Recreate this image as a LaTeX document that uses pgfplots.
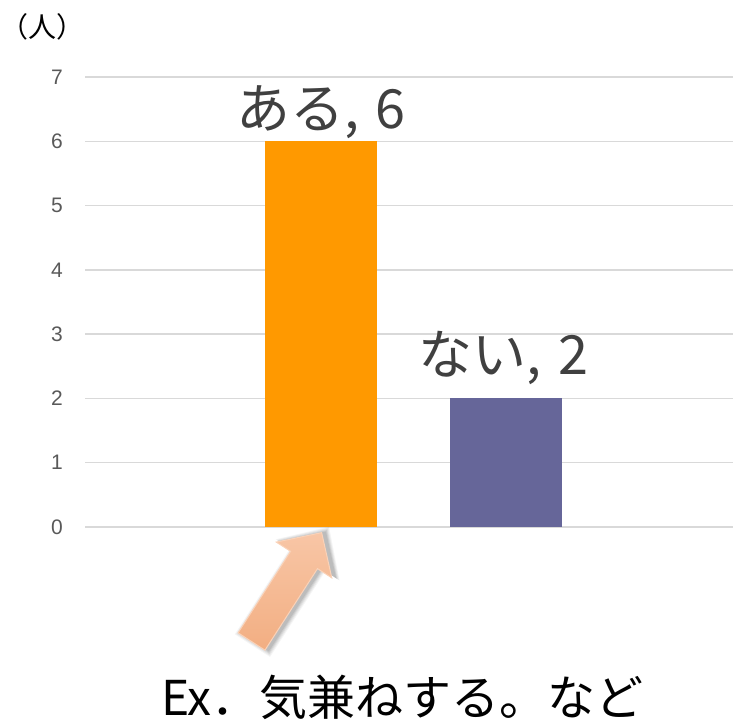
\documentclass[border=0pt]{standalone}
\usepackage{pgfplots}
\pgfplotsset{compat=1.18}
\usepackage{fontspec}
\setmainfont{Liberation Sans}
\newfontfamily\jp{Noto Sans CJK JP}
\definecolor{barorange}{HTML}{FF9900}
\definecolor{barpurple}{HTML}{666699}
\definecolor{gridgray}{HTML}{D9D9D9}
\definecolor{ticktext}{HTML}{595959}
\definecolor{labeltext}{HTML}{404040}
\definecolor{arrowdark}{HTML}{F2AE82}
\definecolor{arrowlight}{HTML}{F8C6A6}
\definecolor{arrowedge}{HTML}{FAD2B8}
\begin{document}
\begin{tikzpicture}[x=1pt,y=1pt]
\path[use as bounding box] (0,0) rectangle (733,720);
\begin{axis}[
  at={(85pt,193pt)}, anchor=south west,
  scale only axis, width=648pt, height=450pt,
  xmin=85, xmax=733, ymin=0, ymax=7,
  axis line style={draw=none},
  major tick length=0pt,
  xtick=\empty,
  ytick={0,1,2,3,4,5,6,7},
  ymajorgrids,
  grid style={draw=gridgray, line width=1.5pt},
  /pgf/number format/assume math mode=true,
  yticklabel style={font=\fontsize{21}{24}\selectfont, text=ticktext, anchor=east, inner sep=0pt, xshift=-22pt},
  clip=false,
]
\addplot[ybar, bar width=112pt, bar shift=0pt, fill=barorange, draw=none,
  nodes near coords={{\jp ある,\hspace{0.3em}6}},
  nodes near coords style={anchor=base, inner sep=0pt, yshift=13pt, text=labeltext, font=\fontsize{54}{60}\selectfont}]
  coordinates {(321,6)};
\addplot[ybar, bar width=112pt, bar shift=0pt, fill=barpurple, draw=none,
  nodes near coords={{\jp ない,\hspace{0.3em}2}},
  nodes near coords style={anchor=base, inner sep=0pt, yshift=24pt, xshift=-2pt, text=labeltext, font=\fontsize{54}{60}\selectfont}]
  coordinates {(505.5,2)};
\end{axis}
% unit label
\node[anchor=center, inner sep=0pt, font=\jp\fontsize{28}{32}\selectfont] at (43,693) {（人）};
% arrow annotation
\begin{scope}[shift={(251.5,78.5)}, rotate=57.2]
  \foreach \s/\o in {5/0.04,4/0.05,3/0.06,2/0.07,1/0.08}{
    \fill[black, opacity=\o] ([shift={(2,-3)}]-\s,-16-\s) -- ++(97+\s,0) -- ++(0,-17) -- ++(32.5+1.4*\s,33+\s) -- ++(-32.5-1.4*\s,33+\s) -- ++(0,-17) -- ++(-97-\s,0) -- cycle;
  }
  \shade[top color=arrowlight, bottom color=arrowdark, draw=arrowedge, line width=1pt]
    (0,-16) -- (97,-16) -- (97,-33) -- (129.5,0) -- (97,33) -- (97,16) -- (0,16) -- cycle;
\end{scope}
% bottom text
\node[anchor=base west, inner sep=0pt, font=\jp\fontsize{48}{56}\selectfont] at (161,5) {Ex．気兼ねする。など};
\end{tikzpicture}
\end{document}
